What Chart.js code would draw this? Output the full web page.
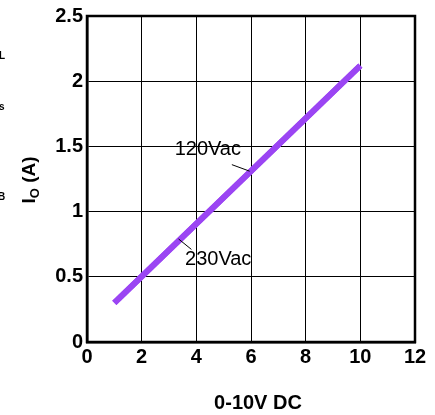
<!DOCTYPE html>
<html>
<head>
<meta charset="utf-8">
<script src="https://cdn.jsdelivr.net/npm/chart.js@4"></script>
<style>
  html, body { margin: 0; padding: 0; background: #fff; }
  #wrap { width: 435px; height: 415px; }
</style>
</head>
<body>
<div id="wrap"><canvas id="ioChart" width="435" height="415"></canvas></div>
<script>
// control voltage (V) vs output current (A)
const ctrlVolts = [1, 10];
const io120 = [0.3, 2.12];
const io230 = [0.3, 2.12];
const xTicks = [0, 2, 4, 6, 8, 10, 12];
const yTicks = [0, 0.5, 1, 1.5, 2, 2.5];

const lineColor = "#9b45f3";
const fontFam = "'Liberation Sans', Arial, sans-serif";

// labels with leader lines, in data units
const callouts = [
  { text: "120Vac", x: 4.42, y: 1.48, from: [5.3, 1.36], to: [5.95, 1.31] },
  { text: "230Vac", x: 4.8, y: 0.63, from: [3.35, 0.79], to: [3.82, 0.71] }
];

const extras = {
  id: "extras",
  afterDraw(chart) {
    const { ctx, chartArea: a, scales: { x, y } } = chart;
    ctx.save();

    // frame
    ctx.strokeStyle = "#000";
    ctx.lineWidth = 2.5;
    ctx.strokeRect(a.left, a.top, a.right - a.left, a.bottom - a.top);

    // callouts
    ctx.fillStyle = "#000";
    ctx.lineWidth = 1;
    ctx.font = "20px " + fontFam;
    ctx.textAlign = "center";
    ctx.textBaseline = "middle";
    callouts.forEach(c => {
      ctx.beginPath();
      ctx.moveTo(x.getPixelForValue(c.from[0]), y.getPixelForValue(c.from[1]));
      ctx.lineTo(x.getPixelForValue(c.to[0]), y.getPixelForValue(c.to[1]));
      ctx.stroke();
      ctx.fillText(c.text, x.getPixelForValue(c.x), y.getPixelForValue(c.y));
    });

    // x title
    ctx.font = "bold 20px " + fontFam;
    ctx.fillText("0-10V DC", 258, 403);

    // y title  I_O (A)
    ctx.translate(35, 180);
    ctx.rotate(-Math.PI / 2);
    ctx.textBaseline = "alphabetic";
    ctx.textAlign = "left";
    const big = "bold 19px " + fontFam, small = "bold 13px " + fontFam;
    ctx.font = big;
    const wI = ctx.measureText("I").width, wA = ctx.measureText(" (A)").width;
    ctx.font = small;
    const wO = ctx.measureText("O").width;
    let px = -(wI + wO + wA) / 2;
    ctx.font = big;
    ctx.fillText("I", px, 0);
    px += wI;
    ctx.font = small;
    ctx.fillText("O", px, 4);
    px += wO;
    ctx.font = big;
    ctx.fillText(" (A)", px, 0);
    ctx.restore();

    // clipped fragments at the left edge
    ctx.save();
    ctx.fillStyle = "#000";
    ctx.font = "bold 10px " + fontFam;
    ctx.textBaseline = "middle";
    ctx.fillText("L", -1, 56);
    ctx.fillText("s", -1, 107);
    ctx.fillText("B", -2, 197);
    ctx.restore();
  }
};

new Chart(document.getElementById("ioChart"), {
  type: "line",
  data: {
    datasets: [
      { label: "120Vac", data: ctrlVolts.map((v, i) => ({ x: v, y: io120[i] })) },
      { label: "230Vac", data: ctrlVolts.map((v, i) => ({ x: v, y: io230[i] })) }
    ].map(d => Object.assign(d, {
      borderColor: lineColor,
      borderWidth: 6,
      pointRadius: 0,
      borderCapStyle: "butt",
      fill: false
    }))
  },
  options: {
    responsive: false,
    animation: false,
    layout: { padding: { top: 14, right: 20, left: 0, bottom: 0 } },
    plugins: { legend: { display: false }, tooltip: { enabled: false } },
    scales: {
      x: {
        type: "linear",
        min: 0, max: 12,
        afterBuildTicks: s => { s.ticks = xTicks.map(v => ({ value: v })); },
        afterFit: s => { s.height = 73; },
        grid: { color: "#000", lineWidth: 1, drawTicks: false },
        border: { color: "#000", width: 2.5 },
        ticks: { color: "#000", padding: 3, callback: v => String(v), font: { family: fontFam, size: 20, weight: "bold" } }
      },
      y: {
        min: 0, max: 2.5,
        afterBuildTicks: s => { s.ticks = yTicks.map(v => ({ value: v })); },
        afterFit: s => { s.width = 87; },
        grid: { color: "#000", lineWidth: 1, drawTicks: false },
        border: { color: "#000", width: 2.5 },
        ticks: { color: "#000", padding: 4, callback: v => String(v), font: { family: fontFam, size: 20, weight: "bold" } }
      }
    }
  },
  plugins: [extras]
});
</script>
</body>
</html>
